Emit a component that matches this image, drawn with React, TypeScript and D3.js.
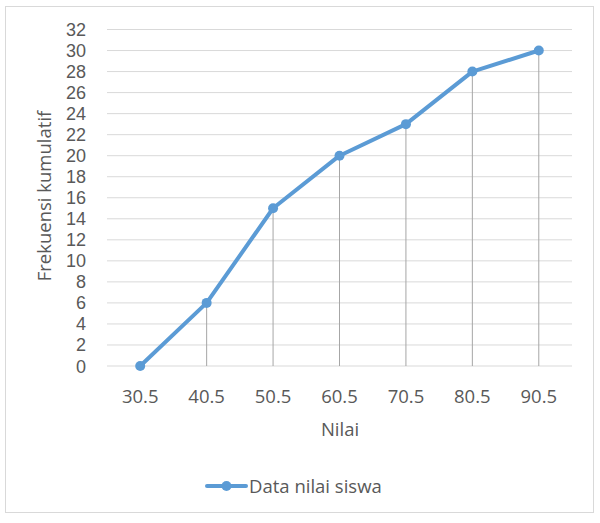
import React from 'react';
import * as d3 from 'd3';

const categories = ['30.5', '40.5', '50.5', '60.5', '70.5', '80.5', '90.5'];
const values = [0, 6, 15, 20, 23, 28, 30];
const yTicks = [0, 2, 4, 6, 8, 10, 12, 14, 16, 18, 20, 22, 24, 26, 28, 30, 32];
const seriesName = 'Data nilai siswa';

const W = 600;
const H = 523;
const left = 107;
const right = 572;
const top = 29.5;
const bottom = 366;
const font = "'Open Sans', 'Liberation Sans', sans-serif";
const tickFont = "'Liberation Sans', 'Open Sans', sans-serif";
const fs = 18.5;
const textColor = '#595959';
const blue = '#5B9BD5';

export default function App() {
  const x = d3.scaleBand<string>().domain(categories).range([left, right]).padding(0);
  const y = d3.scaleLinear().domain([0, 32]).range([bottom, top]);
  const cx = (c: string) => (x(c) as number) + x.bandwidth() / 2;

  const line = d3.line<number>()
    .x((_, i) => cx(categories[i]))
    .y((d) => y(d));

  return (
    <svg width={W} height={H} style={{position: 'absolute', left: 0, top: 0, display: 'block'}}>
      <rect x={0} y={0} width={W} height={H} fill='white' />
      <rect x={5.5} y={6.5} width={588} height={506} fill='white' stroke='#d9d9d9' strokeWidth={1} />
      <g className='grid'>
        {yTicks.map((t) => (
          <line key={t} x1={left} x2={right} y1={y(t)} y2={y(t)} stroke='#d9d9d9' strokeWidth={1} />
        ))}
      </g>
      <g className='y-axis'>
        {yTicks.map((t) => (
          <text key={t} x={86} y={y(t) + 6.5} textAnchor='end' fontFamily={tickFont} fontSize={18} fill={textColor}>{t}</text>
        ))}
      </g>
      <g className='x-axis'>
        {categories.map((c) => (
          <text key={c} x={cx(c)} y={403} textAnchor='middle' fontFamily={font} fontSize={fs} fill={textColor}>{c}</text>
        ))}
      </g>
      <g className='drop-lines'>
        {values.map((v, i) => (
          <line key={i} x1={cx(categories[i])} x2={cx(categories[i])} y1={y(v)} y2={y(0)} stroke='#a6a6a6' strokeWidth={1} />
        ))}
      </g>
      <path d={line(values) || ''} fill='none' stroke={blue} strokeWidth={4} strokeLinejoin='round' strokeLinecap='round' />
      {values.map((v, i) => (
        <circle key={i} cx={cx(categories[i])} cy={y(v)} r={5} fill={blue} />
      ))}
      <text x={340} y={436} textAnchor='middle' fontFamily={font} fontSize={fs} fill={textColor}>Nilai</text>
      <text transform={`translate(51,196) rotate(-90)`} textAnchor='middle' fontFamily={font} fontSize={fs} fill={textColor}>Frekuensi kumulatif</text>
      <g className='legend'>
        <line x1={207} x2={246} y1={486} y2={486} stroke={blue} strokeWidth={4} strokeLinecap='round' />
        <circle cx={226.5} cy={486} r={5} fill={blue} />
        <text x={249} y={492.5} fontFamily={font} fontSize={fs} fill={textColor}>{seriesName}</text>
      </g>
    </svg>
  );
}
